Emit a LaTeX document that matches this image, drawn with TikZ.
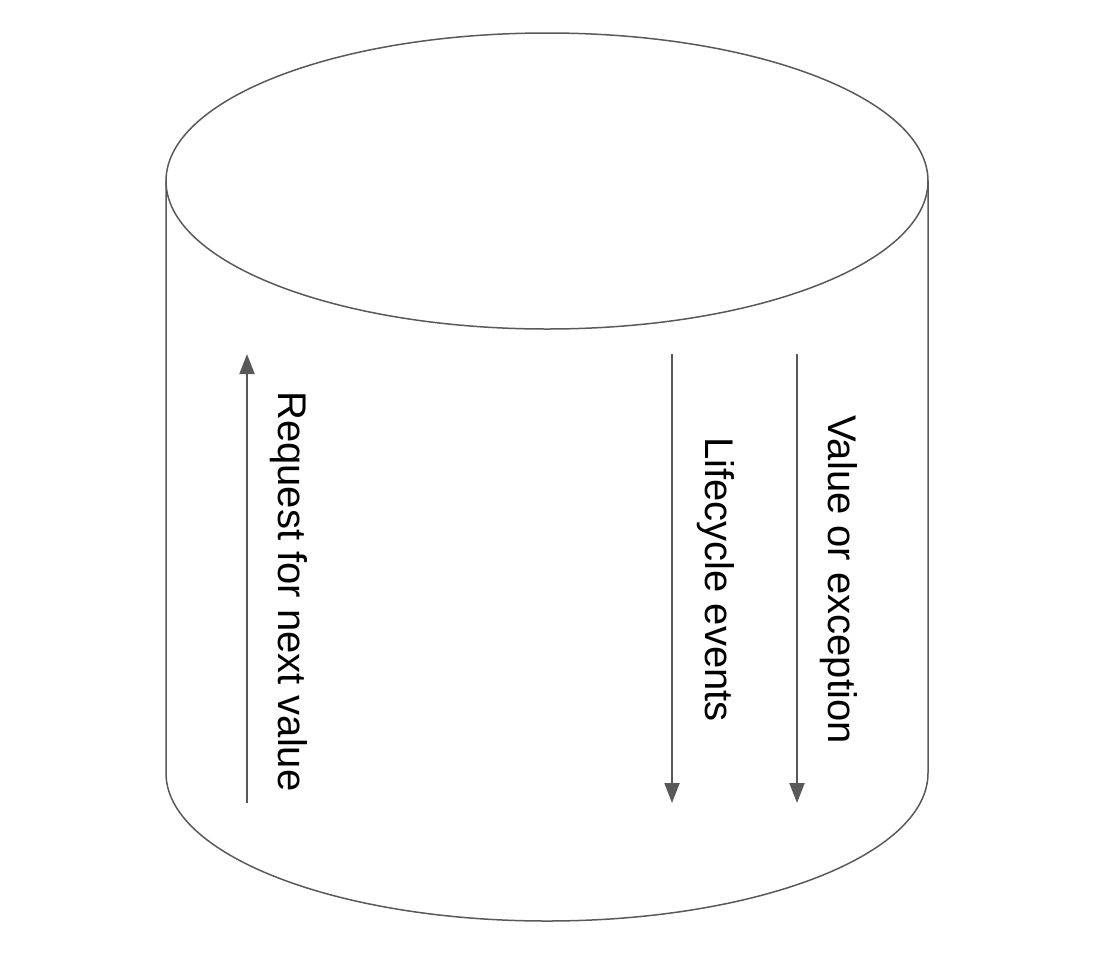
\documentclass[tikz,border=0pt]{standalone}
\usepackage{fontspec}
\setmainfont{Liberation Sans}
\usetikzlibrary{arrows.meta}
\definecolor{edgegray}{HTML}{595959}
\tikzset{
  outline/.style={draw=edgegray, line width=1.5pt},
  flow/.style={draw=edgegray, line width=2pt, -{Triangle[width=15pt,length=20pt]}},
  vlabel/.style={rotate=-90, anchor=base west, inner sep=0pt, font=\fontsize{40}{48}\selectfont, text=black}
}
\begin{document}
\begin{tikzpicture}[x=1pt,y=-1pt]
\useasboundingbox (0,0) rectangle (1108,962);
% cylinder
\coordinate (tl) at (166,181);
\coordinate (tr) at (928,181);
\coordinate (bl) at (166,773);
\coordinate (br) at (928,773);
\draw[outline] (547,181) ellipse[x radius=381pt, y radius=148pt];
\draw[outline] (tl) -- (bl) arc[start angle=180, end angle=360, x radius=381pt, y radius=148pt] -- (tr);
% arrows
\coordinate (a1s) at (247,803);
\coordinate (a1e) at (247,354);
\coordinate (a2s) at (672,354);
\coordinate (a2e) at (672,803);
\coordinate (a3s) at (797,354);
\coordinate (a3e) at (797,803);
\draw[flow] (a1s) -- (a1e);
\draw[flow] (a2s) -- (a2e);
\draw[flow] (a3s) -- (a3e);
% labels
\node[vlabel] (t1) at (278,391) {Request for next value};
\node[vlabel] (t2) at (705,437) {Lifecycle events};
\node[vlabel] (t3) at (828,415) {Value or exception};
\end{tikzpicture}
\end{document}
